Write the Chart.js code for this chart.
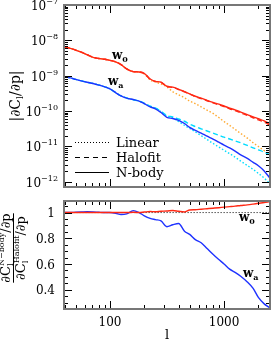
<!DOCTYPE html>
<html lang="en">
<head>
<meta charset="UTF-8">
<title>dC_l/dp for w0 and wa</title>
<script src="https://cdn.jsdelivr.net/npm/chart.js"></script>
<style>
    body { margin: 0; background: #fff; }
    canvas { position: absolute; left: 0; }
    #topChart { top: 0; }
    #ratioChart { top: 191px; }
</style>
</head>
<body>
<canvas id="topChart" width="271" height="191"></canvas>
<canvas id="ratioChart" width="271" height="150"></canvas>
<script>
// multipoles
const ell = [40, 45, 50, 56, 63, 71, 80, 90, 100, 112, 125, 140, 160, 180, 200, 225, 250, 280, 315, 355, 400,
    450, 500, 560, 630, 710, 800, 900, 1000, 1120, 1250, 1400, 1600, 1800, 2000, 2250, 2500];

// |dC_l/dp| for w0
const w0Nbody = [6.4e-9, 5.9e-9, 5.3e-9, 4.6e-9, 3.9e-9, 3.3e-9, 3.05e-9, 2.9e-9, 2.7e-9, 2.45e-9, 2.05e-9, 1.55e-9,
    1.3e-9, 1.27e-9, 1.15e-9, 8.0e-10, 6.9e-10, 6.5e-10, 5.0e-10, 4.7e-10, 4.1e-10, 3.5e-10, 3.05e-10, 2.6e-10,
    2.3e-10, 2.0e-10, 1.75e-10, 1.55e-10, 1.38e-10, 1.2e-10, 1.07e-10, 9.3e-11, 7.9e-11, 6.8e-11, 6.0e-11, 5.2e-11, 4.4e-11];
const w0Halofit = [6.4e-9, 5.9e-9, 5.3e-9, 4.6e-9, 3.9e-9, 3.3e-9, 3.05e-9, 2.9e-9, 2.7e-9, 2.45e-9, 2.05e-9, 1.55e-9,
    1.3e-9, 1.27e-9, 1.14e-9, 7.95e-10, 6.85e-10, 6.45e-10, 4.95e-10, 4.63e-10, 4.05e-10, 3.48e-10, 2.99e-10, 2.54e-10,
    2.24e-10, 1.94e-10, 1.69e-10, 1.49e-10, 1.33e-10, 1.15e-10, 1.02e-10, 8.8e-11, 7.45e-11, 6.4e-11, 5.6e-11, 4.83e-11, 4.05e-11];
const w0Linear = [6.4e-9, 5.9e-9, 5.3e-9, 4.6e-9, 3.9e-9, 3.3e-9, 3.05e-9, 2.9e-9, 2.7e-9, 2.45e-9, 2.05e-9, 1.55e-9,
    1.3e-9, 1.26e-9, 1.12e-9, 7.5e-10, 6.6e-10, 5.8e-10, 4.8e-10, 3.5e-10, 2.85e-10, 2.35e-10, 1.9e-10, 1.6e-10,
    1.3e-10, 1.05e-10, 8.5e-11, 6.5e-11, 5.0e-11, 3.9e-11, 3.0e-11, 2.3e-11, 1.7e-11, 1.25e-11, 9.8e-12, 7.5e-12, 5.9e-12];

// |dC_l/dp| for wa
const waNbody = [9.3e-10, 8.6e-10, 7.8e-10, 7.1e-10, 6.5e-10, 6.0e-10, 5.4e-10, 4.8e-10, 4.2e-10, 3.3e-10, 2.65e-10, 2.3e-10,
    2.1e-10, 1.9e-10, 1.6e-10, 1.3e-10, 1.15e-10, 9.0e-11, 6.6e-11, 6.1e-11, 5.4e-11, 4.4e-11, 3.4e-11, 2.8e-11,
    2.35e-11, 1.92e-11, 1.6e-11, 1.3e-11, 1.08e-11, 9.0e-12, 7.3e-12, 5.7e-12, 4.5e-12, 3.5e-12, 2.8e-12, 2.0e-12, 1.3e-12];
const waHalofit = [9.3e-10, 8.6e-10, 7.8e-10, 7.1e-10, 6.5e-10, 6.0e-10, 5.4e-10, 4.8e-10, 4.2e-10, 3.3e-10, 2.68e-10, 2.32e-10,
    2.07e-10, 1.9e-10, 1.65e-10, 1.37e-10, 1.22e-10, 9.7e-11, 7.4e-11, 6.8e-11, 5.9e-11, 5.1e-11, 4.2e-11, 3.6e-11,
    3.1e-11, 2.7e-11, 2.35e-11, 2.05e-11, 1.8e-11, 1.6e-11, 1.42e-11, 1.25e-11, 1.05e-11, 9.0e-12, 7.9e-12, 6.8e-12, 5.8e-12];
const waLinear = [9.3e-10, 8.6e-10, 7.8e-10, 7.1e-10, 6.5e-10, 6.0e-10, 5.4e-10, 4.8e-10, 4.2e-10, 3.3e-10, 2.68e-10, 2.32e-10,
    2.07e-10, 1.9e-10, 1.6e-10, 1.35e-10, 1.2e-10, 9.5e-11, 7.2e-11, 6.3e-11, 5.0e-11, 3.9e-11, 3.2e-11, 2.55e-11,
    2.0e-11, 1.55e-11, 1.2e-11, 9.5e-12, 7.7e-12, 6.2e-12, 4.9e-12, 3.8e-12, 2.85e-12, 2.2e-12, 1.7e-12, 1.25e-12, 9.0e-13];

// N-body / Halofit ratio
const w0Ratio = [1.0, 1.0, 1.0, 1.0, 1.0, 1.0, 1.0, 1.0, 1.0, 1.0, 1.0, 1.0, 1.002, 1.0, 1.004, 1.008, 1.006, 1.01, 1.012,
    1.016, 1.01, 1.005, 1.02, 1.022, 1.026, 1.03, 1.034, 1.038, 1.042, 1.046, 1.05, 1.055, 1.06, 1.066, 1.072, 1.078, 1.085];
const waRatio = [1.0, 1.0, 1.002, 1.004, 1.006, 1.005, 1.002, 1.0, 1.0, 0.995, 0.985, 0.99, 1.015, 1.0, 0.975, 0.955, 0.945,
    0.935, 0.89, 0.905, 0.915, 0.855, 0.83, 0.79, 0.765, 0.72, 0.675, 0.635, 0.6, 0.56, 0.535, 0.505, 0.46, 0.41, 0.34, 0.29, 0.262];
const unityEll = [40, 2500];
const unity = [1, 1];

// ticks
const xMajor = [100, 1000];
const xMinor = [40, 50, 60, 70, 80, 90, 200, 300, 400, 500, 600, 700, 800, 900, 2000];
const yExponents = [-12, -11, -10, -9, -8, -7];
const ratioLabels = [0.4, 0.6, 0.8, 1];

const RED = 'rgb(255,40,20)';
const ORANGE = 'rgb(255,170,50)';
const BLUE = 'rgb(30,50,255)';
const CYAN = 'rgb(0,220,255)';
const SERIF = '"DejaVu Serif", serif';

function pts(xs, ys) {
    return xs.map((x, i) => ({ x: x, y: ys[i] }));
}

function line(data, color, dash, width) {
    return {
        data: data, borderColor: color, borderWidth: width || 1.4, borderDash: dash || [],
        pointRadius: 0, fill: false, cubicInterpolationMode: 'monotone'
    };
}

// draws text made of parts (sub/superscripts), parts with stack:true don't advance
function richWidth(ctx, parts) {
    let w = 0, pend = 0;
    parts.forEach(p => {
        ctx.font = p.f;
        const tw = ctx.measureText(p.t).width;
        if (p.stack) { pend = Math.max(pend, tw); } else { w += Math.max(tw, pend); pend = 0; }
    });
    return w + pend;
}
function drawRich(ctx, parts, x, y, align) {
    const w = richWidth(ctx, parts);
    let cx = align === 'center' ? x - w / 2 : align === 'right' ? x - w : x;
    let pend = 0;
    parts.forEach(p => {
        ctx.font = p.f;
        ctx.fillText(p.t, cx, y + (p.dy || 0));
        const tw = ctx.measureText(p.t).width;
        if (p.stack) { pend = Math.max(pend, tw); } else { cx += Math.max(tw, pend); pend = 0; }
    });
}

function drawXTicks(ctx, chart) {
    const xs = chart.scales.x, a = chart.chartArea;
    ctx.strokeStyle = '#000';
    ctx.lineWidth = 1;
    ctx.beginPath();
    xMajor.concat(xMinor).forEach(v => {
        const px = Math.round(xs.getPixelForValue(v)) + 0.5;
        const len = xMajor.includes(v) ? 8 : 4;
        ctx.moveTo(px, a.bottom); ctx.lineTo(px, a.bottom - len);
        ctx.moveTo(px, a.top); ctx.lineTo(px, a.top + len);
    });
    ctx.stroke();
}

function drawFrame(ctx, chart) {
    const a = chart.chartArea;
    ctx.strokeStyle = '#777';
    ctx.lineWidth = 2;
    ctx.strokeRect(a.left, a.top, a.right - a.left, a.bottom - a.top);
}

const topDecor = {
    id: 'topDecor',
    afterDraw(chart) {
        const ctx = chart.ctx, a = chart.chartArea, ys = chart.scales.y;
        ctx.save();
        drawXTicks(ctx, chart);
        ctx.beginPath();
        yExponents.forEach(e => {
            for (let k = 1; k <= 9; k++) {
                const v = k * Math.pow(10, e);
                if (v < ys.min || v > ys.max) continue;
                const py = Math.round(ys.getPixelForValue(v)) + 0.5;
                const len = k === 1 ? 8 : 4;
                ctx.moveTo(a.left, py); ctx.lineTo(a.left + len, py);
                ctx.moveTo(a.right, py); ctx.lineTo(a.right - len, py);
            }
        });
        ctx.stroke();
        drawFrame(ctx, chart);

        ctx.fillStyle = '#000';
        ctx.textBaseline = 'alphabetic';
        yExponents.forEach(e => {
            const py = ys.getPixelForValue(Math.pow(10, e));
            drawRich(ctx, [
                { t: '10', f: '12px ' + SERIF },
                { t: '\u2212' + Math.abs(e), f: '8px ' + SERIF, dy: -6 }
            ], 58, py + 5, 'right');
        });

        // axis title
        ctx.save();
        ctx.translate(15, 96);
        ctx.rotate(-Math.PI / 2);
        drawRich(ctx, [
            { t: '|\u2202C', f: '14px ' + SERIF },
            { t: 'l', f: '9px ' + SERIF, dy: 3 },
            { t: '/\u2202p|', f: '14px ' + SERIF }
        ], 0, 5, 'center');
        ctx.restore();

        // curve labels
        drawRich(ctx, [{ t: 'w', f: 'bold 12px ' + SERIF }, { t: '0', f: 'bold 8px ' + SERIF, dy: 3 }], 112, 59, 'left');
        drawRich(ctx, [{ t: 'w', f: 'bold 12px ' + SERIF }, { t: 'a', f: 'bold 8px ' + SERIF, dy: 3 }], 108, 85, 'left');

        // legend
        const rows = [['Linear', [1, 2]], ['Halofit', [5, 4]], ['N-body', []]];
        rows.forEach((r, i) => {
            const py = 142 + i * 15 + 0.5;
            ctx.strokeStyle = '#000';
            ctx.lineWidth = 1;
            ctx.setLineDash(r[1]);
            ctx.beginPath();
            ctx.moveTo(75, py); ctx.lineTo(109, py);
            ctx.stroke();
            ctx.setLineDash([]);
            ctx.font = '13px ' + SERIF;
            ctx.fillText(r[0], 116, py + 4.5);
        });
        ctx.restore();
    }
};

const ratioDecor = {
    id: 'ratioDecor',
    afterDraw(chart) {
        const ctx = chart.ctx, a = chart.chartArea, ys = chart.scales.y, xs = chart.scales.x;
        ctx.save();
        drawXTicks(ctx, chart);
        ctx.beginPath();
        for (let i = 5; i <= 21; i++) {
            const v = i * 0.05;
            if (v < ys.min || v > ys.max) continue;
            const py = Math.round(ys.getPixelForValue(v)) + 0.5;
            const len = (i % 4 === 0) ? 8 : 4;
            ctx.moveTo(a.left, py); ctx.lineTo(a.left + len, py);
            ctx.moveTo(a.right, py); ctx.lineTo(a.right - len, py);
        }
        ctx.stroke();
        drawFrame(ctx, chart);

        ctx.fillStyle = '#000';
        ctx.textBaseline = 'alphabetic';
        ctx.font = '12px ' + SERIF;
        ctx.textAlign = 'right';
        ratioLabels.forEach(v => {
            ctx.fillText(v === 1 ? '1' : v.toFixed(1), 55, ys.getPixelForValue(v) + 4.5);
        });
        ctx.textAlign = 'center';
        xMajor.forEach(v => {
            ctx.fillText(String(v), xs.getPixelForValue(v), a.bottom + 17);
        });
        ctx.font = '13px ' + SERIF;
        ctx.fillText('l', (a.left + a.right) / 2, a.bottom + 30);
        ctx.textAlign = 'left';

        // fraction title
        ctx.save();
        ctx.translate(13, 248 - 191);
        ctx.rotate(-Math.PI / 2);
        const num = [
            { t: '\u2202C', f: '13px ' + SERIF },
            { t: 'N\u2212body', f: '8px ' + SERIF, dy: -6, stack: true },
            { t: 'l', f: '8px ' + SERIF, dy: 3 },
            { t: '/\u2202p', f: '13px ' + SERIF }
        ];
        const den = [
            { t: '\u2202C', f: '13px ' + SERIF },
            { t: 'Halofit', f: '8px ' + SERIF, dy: -6, stack: true },
            { t: 'l', f: '8px ' + SERIF, dy: 3 },
            { t: '/\u2202p', f: '13px ' + SERIF }
        ];
        drawRich(ctx, num, 0, -3, 'center');
        drawRich(ctx, den, 0, 12, 'center');
        const fw = Math.max(richWidth(ctx, num), richWidth(ctx, den));
        ctx.strokeStyle = '#000';
        ctx.lineWidth = 1;
        ctx.beginPath();
        ctx.moveTo(-fw / 2, 0.5); ctx.lineTo(fw / 2, 0.5);
        ctx.stroke();
        ctx.restore();

        drawRich(ctx, [{ t: 'w', f: 'bold 12px ' + SERIF }, { t: '0', f: 'bold 8px ' + SERIF, dy: 3 }], 239, 219 - 191 + 2, 'left');
        drawRich(ctx, [{ t: 'w', f: 'bold 12px ' + SERIF }, { t: 'a', f: 'bold 8px ' + SERIF, dy: 3 }], 243, 277 - 191, 'left');
        ctx.restore();
    }
};

function baseScales(yMin, yMax, yType, xHeight) {
    return {
        x: {
            type: 'logarithmic', min: 39.5, max: 2530,
            ticks: { display: false }, grid: { display: false }, border: { display: false },
            afterFit(s) { s.height = xHeight; }
        },
        y: {
            type: yType, min: yMin, max: yMax,
            ticks: { display: false }, grid: { display: false }, border: { display: false },
            afterFit(s) { s.width = 64; }
        }
    };
}

const commonPlugins = { legend: { display: false }, tooltip: { enabled: false }, title: { display: false } };

new Chart(document.getElementById('topChart'), {
    type: 'line',
    data: {
        datasets: [
            line(pts(ell, w0Nbody), RED),
            line(pts(ell, waNbody), BLUE),
            line(pts(ell, w0Halofit), RED, [5, 3]),
            line(pts(ell, waHalofit), CYAN, [5, 3]),
            line(pts(ell, w0Linear), ORANGE, [1.5, 2]),
            line(pts(ell, waLinear), CYAN, [1.5, 2])
        ]
    },
    options: {
        responsive: false, animation: false, parsing: true,
        layout: { padding: { top: 5, right: 1, left: 0, bottom: 0 } },
        plugins: commonPlugins,
        scales: baseScales(7e-13, 1e-7, 'logarithmic', 4)
    },
    plugins: [topDecor]
});

new Chart(document.getElementById('ratioChart'), {
    type: 'line',
    data: {
        datasets: [
            line(pts(ell, w0Ratio), RED),
            line(pts(ell, waRatio), BLUE),
            line(pts(unityEll, unity), '#000', [1, 2], 1)
        ]
    },
    options: {
        responsive: false, animation: false,
        layout: { padding: { top: 10, right: 1, left: 0, bottom: 0 } },
        plugins: commonPlugins,
        scales: baseScales(0.25, 1.09, 'linear', 32)
    },
    plugins: [ratioDecor]
});
</script>
</body>
</html>
